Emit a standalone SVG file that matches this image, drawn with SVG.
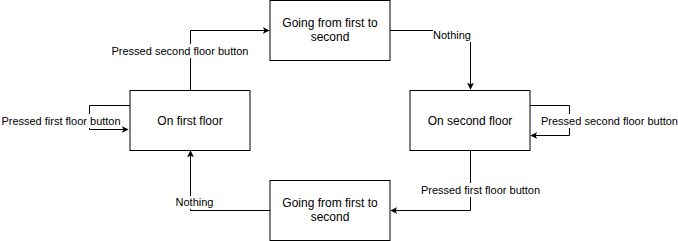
<svg xmlns="http://www.w3.org/2000/svg" width="678" height="241" viewBox="0 0 678 241">
  <style>
    .state rect { fill: #ffffff; stroke: #000000; stroke-width: 1; }
    .state text { font-family: "Liberation Sans", Arial, sans-serif; font-size: 12px; fill: #000000; text-anchor: middle; }
    .edge { fill: none; stroke: #000000; stroke-width: 1; marker-end: url(#arrow); }
    .lbl-bg { fill: #ffffff; }
    .lbl { font-family: "Liberation Sans", Arial, sans-serif; font-size: 11px; fill: #000000; text-anchor: middle; }
  </style>
  <defs>
    <marker id="arrow" viewBox="0 0 10 10" refX="9" refY="5" markerWidth="7" markerHeight="7" markerUnits="userSpaceOnUse" orient="auto">
      <path d="M0,0 L10,5 L0,10 L2.5,5 Z" fill="#000000"/>
    </marker>
  </defs>

  <rect width="678" height="241" fill="#ffffff"/>

  <g id="connectors">
    <!-- first floor -> going up -->
    <path class="edge" d="M190.5,90 V30.5 H269"/>
    <!-- going up -> second floor -->
    <path class="edge" d="M390,30.5 H470.5 V89"/>
    <!-- second floor self loop -->
    <path class="edge" d="M530,105.5 H569.5 V135.5 H531"/>
    <!-- first floor self loop -->
    <path class="edge" d="M130,105.5 H89.5 V129.5 H128"/>
    <!-- second floor -> going down -->
    <path class="edge" d="M470.5,150 V210.5 H391"/>
    <!-- going down -> first floor -->
    <path class="edge" d="M270,210.5 H190.5 V151"/>

    <g id="edge-labels">
      <rect class="lbl-bg" x="112" y="44" width="136" height="14"/>
      <text class="lbl" x="180" y="55">Pressed second floor button</text>

      <rect class="lbl-bg" x="433" y="29" width="38" height="13"/>
      <text class="lbl" x="452" y="39">Nothing</text>

      <rect class="lbl-bg" x="541" y="114" width="137" height="14"/>
      <text class="lbl" x="609.5" y="125">Pressed second floor button</text>

      <rect class="lbl-bg" x="1" y="114" width="120" height="14"/>
      <text class="lbl" x="61" y="125">Pressed first floor button</text>

      <rect class="lbl-bg" x="421" y="183" width="119" height="14"/>
      <text class="lbl" x="480.5" y="194">Pressed first floor button</text>

      <rect class="lbl-bg" x="175" y="196" width="39" height="13"/>
      <text class="lbl" x="194.5" y="206">Nothing</text>
    </g>
  </g>

  <g id="on-first-floor" class="state">
    <rect x="130" y="90.5" width="120" height="60"/>
    <text x="190" y="125">On first floor</text>
  </g>

  <g id="on-second-floor" class="state">
    <rect x="410" y="90.5" width="120" height="60"/>
    <text x="470" y="125">On second floor</text>
  </g>

  <g id="going-up" class="state">
    <rect x="270" y="0.5" width="120" height="60"/>
    <text x="330" y="27">Going from first to</text>
    <text x="330" y="41">second</text>
  </g>

  <g id="going-down" class="state">
    <rect x="270" y="180.5" width="120" height="60"/>
    <text x="330" y="207">Going from first to</text>
    <text x="330" y="221">second</text>
  </g>
</svg>
